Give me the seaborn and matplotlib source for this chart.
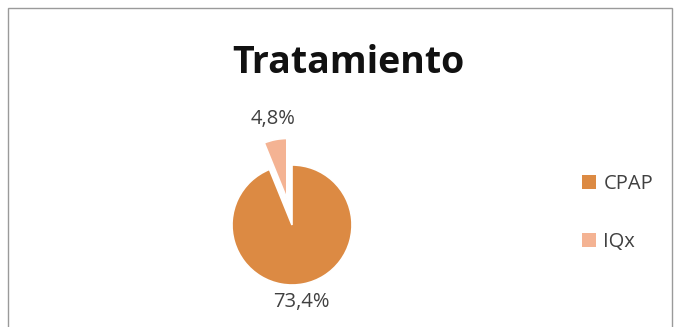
import matplotlib
matplotlib.use("Agg")
import matplotlib.pyplot as plt
import matplotlib.patches as mpatches
import seaborn as sns

categories = ["CPAP", "IQx"]
values = [73.4, 4.8]
labels = ["73,4%", "4,8%"]
title = "Tratamiento"

sns.set_theme(style="white")
plt.rcParams["font.family"] = ["Open Sans", "DejaVu Sans"]

colors = ["#DC8A43", "#F4B393"]

fig = plt.figure(figsize=(6.8, 3.27), dpi=100)
fig.patch.set_facecolor("white")

# chart border
fig.add_artist(mpatches.Rectangle((8 / 680, -0.05), 664 / 680, (327 - 8) / 327 + 0.05,
                                  transform=fig.transFigure, fill=False,
                                  edgecolor="#9a9a9a", linewidth=1.0))

ax = fig.add_axes([(292 - 90) / 680, (327 - 225 - 90) / 327, 180 / 680, 180 / 327])
wedges, texts = ax.pie(values, labels=labels, colors=colors, startangle=90,
                       counterclock=False, explode=[0, 0.45], labeldistance=1.2,
                       wedgeprops=dict(edgecolor="white", linewidth=1.2),
                       textprops=dict(fontsize=14.5, color="#404040"))
x1, y1 = texts[1].get_position()
texts[1].set_position((x1 + 0.0, y1 + 0.15))
x0, y0 = texts[0].get_position()
texts[0].set_position((x0 - 0.07, y0 - 0.1))
for t in texts:
    t.set_ha("center")
    t.set_va("center")
ax.set_xlim(-1.5, 1.5)
ax.set_ylim(-1.5, 1.5)
ax.set_aspect("equal")
ax.axis("off")

fig.text(348 / 680, 1 - 63 / 327, title, ha="center", va="center",
         fontsize=27, fontweight="bold", color="#111111")

handles = [mpatches.Patch(facecolor=c, edgecolor="none", label=l)
           for c, l in zip(colors, categories)]
fig.legend(handles=handles, loc="center left", bbox_to_anchor=(564 / 680, 1 - 213 / 327),
           frameon=False, fontsize=14.5, handlelength=0.7, handleheight=0.7,
           handletextpad=0.35, labelspacing=1.9, labelcolor="#404040")

fig.savefig("out.png", dpi=100)
